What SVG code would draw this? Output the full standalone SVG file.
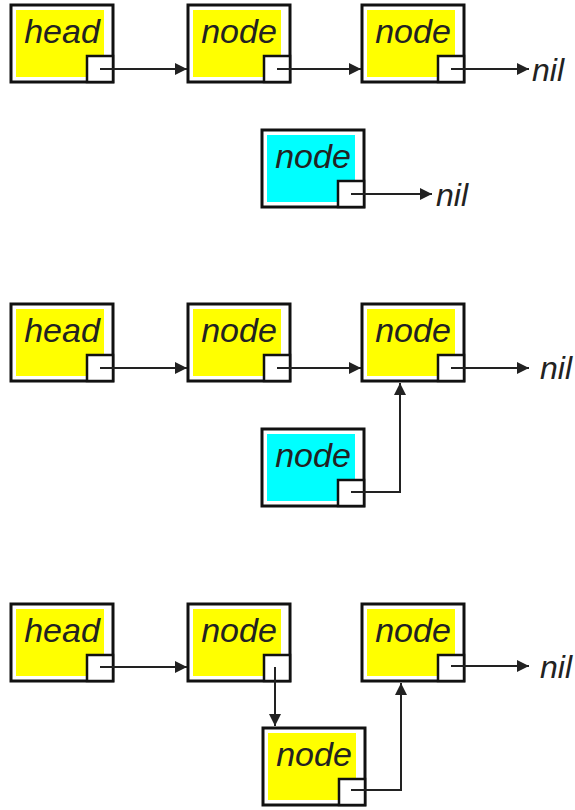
<svg xmlns="http://www.w3.org/2000/svg" width="575" height="810" viewBox="0 0 575 810">
<style>
.box{fill:#fff;stroke:#111;stroke-width:3}
.y{fill:#ffff00}
.c{fill:#00ffff}
.sq{fill:#fff;stroke:#111;stroke-width:2.5}
.lbl{font-family:"Liberation Sans",Arial,sans-serif;font-style:italic;font-size:34px;fill:#222;text-anchor:middle}
.nil{font-family:"Liberation Sans",Arial,sans-serif;font-style:italic;font-size:32px;fill:#222}
.ln{fill:none;stroke:#222;stroke-width:2}
</style>
<defs>
<marker id="ah" viewBox="0 0 10 10" refX="10" refY="5" markerWidth="6" markerHeight="6" orient="auto" markerUnits="strokeWidth">
<path d="M0,0 L10,5 L0,10 z" fill="#222"/>
</marker>
<symbol id="ny" overflow="visible">
<rect class="box" x="0" y="0" width="102" height="77"/>
<rect class="y" x="5" y="5" width="88" height="67"/>
<rect class="sq" x="76" y="51" width="26" height="26"/>
</symbol>
<symbol id="nc" overflow="visible">
<rect class="box" x="0" y="0" width="102" height="77"/>
<rect class="c" x="5" y="5" width="88" height="67"/>
<rect class="sq" x="76" y="51" width="26" height="26"/>
</symbol>
</defs>
<g id="r1head"><use href="#ny" x="11" y="5"/><text class="lbl" x="62" y="43">head</text></g>
<g id="r1n1"><use href="#ny" x="188" y="5"/><text class="lbl" x="239" y="43">node</text></g>
<g id="r1n2"><use href="#ny" x="362" y="5"/><text class="lbl" x="413" y="43">node</text></g>
<g id="r2new"><use href="#nc" x="262" y="130"/><text class="lbl" x="313" y="168">node</text></g>
<g id="r3head"><use href="#ny" x="11" y="304"/><text class="lbl" x="62" y="342">head</text></g>
<g id="r3n1"><use href="#ny" x="188" y="304"/><text class="lbl" x="239" y="342">node</text></g>
<g id="r3n2"><use href="#ny" x="362" y="304"/><text class="lbl" x="413" y="342">node</text></g>
<g id="r3new"><use href="#nc" x="262" y="429"/><text class="lbl" x="313" y="467">node</text></g>
<g id="r4head"><use href="#ny" x="11" y="604"/><text class="lbl" x="62" y="642">head</text></g>
<g id="r4n1"><use href="#ny" x="188" y="604"/><text class="lbl" x="239" y="642">node</text></g>
<g id="r4n2"><use href="#ny" x="362" y="604"/><text class="lbl" x="413" y="642">node</text></g>
<g id="r4new"><use href="#ny" x="263" y="728"/><text class="lbl" x="314" y="766">node</text></g>
<g id="connectors">
<path class="ln" marker-end="url(#ah)" d="M100,69 H187"/>
<path class="ln" marker-end="url(#ah)" d="M277,69 H361"/>
<path class="ln" marker-end="url(#ah)" d="M451,69 H529"/>
<path class="ln" marker-end="url(#ah)" d="M351,194 H432"/>
<path class="ln" marker-end="url(#ah)" d="M100,368 H187"/>
<path class="ln" marker-end="url(#ah)" d="M277,368 H361"/>
<path class="ln" marker-end="url(#ah)" d="M451,368 H529"/>
<path class="ln" marker-end="url(#ah)" d="M351,492 H400 V383"/>
<path class="ln" marker-end="url(#ah)" d="M100,667 H187"/>
<path class="ln" marker-end="url(#ah)" d="M275,667 V726"/>
<path class="ln" marker-end="url(#ah)" d="M451,666 H529"/>
<path class="ln" marker-end="url(#ah)" d="M351,790 H401 V683"/>
</g>
<text class="nil" x="532" y="81">nil</text>
<text class="nil" x="436" y="206">nil</text>
<text class="nil" x="540" y="379">nil</text>
<text class="nil" x="540" y="678">nil</text>
</svg>
